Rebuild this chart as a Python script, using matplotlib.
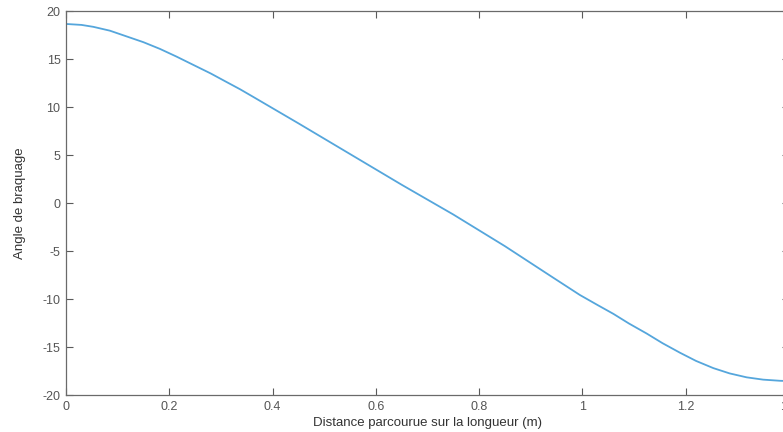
import matplotlib
matplotlib.use("Agg")
import matplotlib.pyplot as plt

plt.rcParams['font.family'] = ['Liberation Sans', 'DejaVu Sans']
plt.rcParams['axes.unicode_minus'] = False

distance = [0.0, 0.03, 0.053, 0.085, 0.1175, 0.15, 0.182, 0.214, 0.246, 0.28, 0.311, 0.337, 0.362,
            0.45, 0.55, 0.65, 0.75, 0.85, 0.944,
            0.995, 1.03, 1.06, 1.09, 1.1245, 1.155, 1.189, 1.22, 1.2535, 1.285, 1.318, 1.35, 1.383, 1.4]
angle = [18.65, 18.55, 18.35, 17.95, 17.35, 16.75, 16.05, 15.25, 14.4, 13.5, 12.6, 11.85, 11.07,
         8.3, 5.1, 1.9, -1.2, -4.5, -7.8,
         -9.58, -10.65, -11.55, -12.55, -13.6, -14.6, -15.6, -16.45, -17.2, -17.75, -18.16, -18.4, -18.52, -18.55]

xticks = [0, 0.2, 0.4, 0.6, 0.8, 1.0, 1.2, 1.4]
xticklabels = ['0', '0.2', '0.4', '0.6', '0.8', '1', '1.2', '1.4']
yticks = [-20, -15, -10, -5, 0, 5, 10, 15, 20]

fig = plt.figure(figsize=(7.83, 4.32), dpi=100)
ax = fig.add_axes([66/783, 37/432, (789-66)/783, (395-11)/432])
ax.plot(distance, angle, color='#55a6dc', linewidth=1.3, solid_joinstyle='round')
ax.set_xlim(0, 1.4)
ax.set_ylim(-20, 20)
ax.set_xticks(xticks)
ax.set_xticklabels(xticklabels)
ax.set_yticks(yticks)
ax.tick_params(direction='in', top=True, right=True, length=5, width=0.8,
               colors='#5a5a5a', labelsize=9, labelcolor='#555555', pad=4)
for s in ax.spines.values():
    s.set_color('#6a6a6a')
    s.set_linewidth(0.9)
ax.set_xlabel('Distance parcourue sur la longueur (m)', fontsize=9.5, color='#333333', labelpad=3)
ax.set_ylabel('Angle de braquage', fontsize=9.5, color='#333333', labelpad=12)
fig.savefig('out.png', dpi=100)
